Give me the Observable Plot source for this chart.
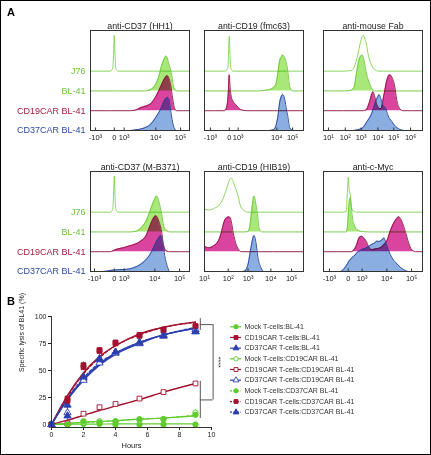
<!DOCTYPE html>
<html><head><meta charset="utf-8">
<script src="https://cdn.jsdelivr.net/npm/d3@7"></script>
<script src="https://cdn.jsdelivr.net/npm/@observablehq/plot@0.6"></script>
<style>
html,body{margin:0;padding:0;background:#fff;}
#fig{position:relative;width:431px;height:455px;box-sizing:border-box;border:1px solid #000;overflow:hidden;font-family:"Liberation Sans",Arial,sans-serif;background:#fff;}
.letter{position:absolute;font-weight:bold;font-size:11px;line-height:11px;color:#000;}
</style></head><body><div id="fig"><div class="letter" style="left:6px;top:6px">A</div><div class="letter" style="left:6px;top:295px">B</div></div>
<script>
// ---------- Panel A data ----------
const rowNames = ["J76", "BL-41", "CD19CAR BL-41", "CD37CAR BL-41"];
const panelTitles = ["anti-CD37 (HH1)", "anti-CD19 (fmc63)", "anti-mouse Fab", "anti-CD37 (M-B371)", "anti-CD19 (HIB19)", "anti-c-Myc"];
const biexLabels = ["-10³", "0", "10³", "10⁴", "10⁵"];
const logLabels5 = ["10¹", "10²", "10³", "10⁴", "10⁵"];
const logLabels6 = ["10¹", "10²", "10³", "10⁴", "10⁵", "10⁶"];
// tick positions in display channel units (0-100 across each panel)
const tickPos = [[5, 24, 34, 66, 91], [6, 25, 34, 73, 89], [5, 22, 38, 55, 71, 88], [4, 24, 34, 65, 90], [0, 24, 44, 67, 88], [6, 25, 39, 64, 89]];
const tickLabels = [biexLabels, biexLabels, logLabels6, biexLabels, logLabels5, biexLabels];

// curves: [channel, % of max] for rows J76, BL-41, CD19CAR BL-41, CD37CAR BL-41
const hh1 = [
  [[20,0],[22.5,8],[23.3,50],[24,100],[24.7,50],[25.5,8],[28,0]],
  [[55,0],[60,3],[63,8],[66,20],[69,40],[71,62],[73,80],[75,92],[76,97],[77.5,92],[79,76],[81,58],[82,44],[84,11],[86,2],[88,0]],
  [[40,0],[46,2],[51,9],[56,13],[61,20],[66,39],[71,67],[75,90],[77.7,97],[79.5,88],[81,71],[83,34],[85,6],[87,0]],
  [[40,0],[46,2],[52,5],[56,9],[61,18],[66,37],[71,60],[75,85],[78,92],[79.5,85],[81,55],[83,23],[85,5],[87,0]]
];
const fmc63 = [
  [[21,0],[23.5,8],[24.3,50],[25,97],[25.7,50],[26.5,8],[29,0]],
  [[55,0],[62,2],[66,4],[69,8],[72,18],[74,48],[76,85],[78,96],[79,100],[80,97],[82,85],[84,58],[86,14],[88,2],[90,0]],
  [[20,0],[22,6],[24,48],[25,100],[26,60],[27,40],[29,25],[32,16],[35,6],[39,1],[42,0]],
  [[65,0],[70,3],[72,12],[74,37],[76,79],[78,97],[79,100],[81,88],[83,55],[84,42],[86,9],[88,2],[90,0]]
];
const mouseFab = [
  [[20,0],[28,2],[31,11],[34,39],[37,76],[39,96],[40,100],[42,88],[43,80],[45,48],[48,20],[51,6],[56,0]],
  [[22,0],[28,2],[31,11],[33,44],[36,88],[38,98],[39,100],[41,85],[43,53],[46,25],[49,6],[52,0]],
  [[40,0],[43,2],[46,20],[49,48],[50,53],[52,37],[54,16],[57,6],[58,6],[61,43],[64,85],[67,100],[69,94],[72,67],[74,30],[77,6],[80,0]],
  [[30,0],[34,2],[39,6],[44,25],[48,43],[51,66],[53,83],[55,95],[56,100],[58,88],[60,70],[63,61],[65,43],[69,25],[73,11],[78,2],[82,0]]
];
const mb371 = [
  [[20,0],[22.5,8],[23.3,50],[24,100],[24.7,50],[25.5,8],[28,0]],
  [[40,0],[46,2],[51,11],[56,30],[60,57],[63,80],[65,93],[67,100],[69,85],[72,48],[74,16],[77,4],[80,0]],
  [[20,0],[23,3],[28,8],[33,11],[39,16],[46,22],[51,30],[56,44],[60,71],[63,90],[66,100],[69,85],[72,53],[74,16],[77,2],[80,0]],
  [[12,0],[16,1],[23,4],[36,6],[46,13],[53,25],[58,39],[63,62],[66,80],[69,94],[71,100],[73,80],[75,44],[78,11],[80,0]]
];
const hib19 = [
  [[0,8],[5,6],[10,11],[15,20],[19,39],[23,71],[25,88],[27,95],[30,76],[34,44],[36,20],[39,6],[44,0]],
  [[40,0],[44,1],[46,20],[48,67],[50,100],[52,76],[54,39],[55,11],[58,0]],
  [[0,16],[4,11],[9,16],[14,30],[17,53],[19,76],[22,94],[25,97],[27,85],[29,53],[32,20],[35,4],[37,0]],
  [[38,0],[41,2],[44,20],[47,67],[50,100],[52,80],[54,39],[57,11],[60,0]]
];
const cmyc = [
  [[20,0],[23,2],[24,48],[25,97],[26,60],[27,48],[28,20],[29,6],[31,2],[34,0]],
  [[23,0],[24,10],[25,48],[26,85],[27,94],[28,76],[29,44],[31,20],[34,6],[39,1],[45,0]],
  [[28,0],[30,3],[33,16],[36,39],[38,43],[40,40],[43,30],[46,12],[49,6],[53,8],[58,12],[61,20],[64,30],[68,62],[71,80],[74,92],[76,97],[79,85],[83,53],[86,25],[89,6],[93,0]],
  [[17,0],[19,3],[23,16],[26,30],[29,39],[32,46],[34,53],[37,58],[39,62],[42,64],[44,67],[47,72],[49,76],[52,80],[54,85],[56,83],[58,86],[60,90],[61,94],[62,88],[63,80],[66,57],[69,39],[73,25],[78,11],[83,2],[86,0]]
];

// ---------- Panel B data ----------
const times = [0, 1, 2, 3, 4, 5.5, 7, 9];
const lysisNames = ["Mock T-cells:BL-41", "CD19CAR T-cells:BL-41", "CD37CAR T-cells:BL-41",
  "Mock T-cells:CD19CAR BL-41", "CD19CAR T-cells:CD19CAR BL-41", "CD37CAR T-cells:CD19CAR BL-41",
  "Mock T-cells:CD37CAR BL-41", "CD19CAR T-cells:CD37CAR BL-41", "CD37CAR T-cells:CD37CAR BL-41"];
const mockBL41 = [0, 0, 0.5, 0.5, 0, 0, 0, 0];
const cd19BL41 = [0, 24, 55, 69, 76, 82, 88, 91];
const cd37BL41 = [0, 18, 43, 61, 67, 75, 82, 86];
const mockCD19 = [0, 0, 2, 3, 3, 4, 5, 11];
const cd19CD19 = [0, 1, 10, 16, 19, 24, 30, 38];
const cd37CD19 = [0, 11, 41, 57, 66, 75, 83, 88];
const mockCD37 = [0, 0, 3, 2, 3, 5, 5, 9];
const cd19CD37 = [0, 22, 53, 68, 75, 83, 87, 91];
const cd37CD37 = [0, 8, 44, 60, 67, 76, 82, 86];
const fitMockBL41 = [0, 0.2, 0.3, 0.4, 0.5, 0.5, 0.5, 0.5];
const fitCd19BL41 = [0, 27, 48, 63, 73, 84, 90, 95];
const fitCd37BL41 = [0, 24, 42, 56, 66, 76, 83, 89];
const fitMockCD19 = [0, 1, 2, 3, 3.5, 5, 6, 8];
const fitCd19CD19 = [0, 4, 8.5, 13, 17, 23, 30, 38];
const fitCd37CD19 = [0, 23, 41, 55, 65, 75, 83, 89];
const fitMockCD37 = [0, 1, 2, 2.5, 3.5, 5, 6, 8.5];
const fitCd19CD37 = [0, 26, 47, 62, 73, 83, 90, 94.5];
const fitCd37CD37 = [0, 24, 43, 57, 66, 76, 83, 90];
const sdMockBL41 = [0, 0.5, 1, 1, 1, 0.5, 0.5, 0.5];
const sdCd19BL41 = [0, 3, 3, 2, 2, 2, 2, 2];
const sdCd37BL41 = [0, 4, 3, 3, 2, 2, 2, 2];
const sdMockCD19 = [0, 0.5, 1, 1, 1, 2, 1, 3];
const sdCd19CD19 = [0, 1, 1, 1, 1, 1, 1, 1];
const sdCd37CD19 = [0, 5, 3, 3, 2, 2, 2, 2];
const sdMockCD37 = [0, 0.5, 1, 2, 1, 2, 1, 2];
const sdCd19CD37 = [0, 3, 3, 2, 2, 2, 2, 2];
const sdCd37CD37 = [0, 4, 3, 3, 2, 2, 2, 2];
const sigX = [9.3, 10.1];
const sigTop = [87, 98];
const sigBottom = [5.5, 40];

// ---------- rendering ----------
const fig = document.getElementById("fig");
function place(el, left, top) { el.style.position = "absolute"; el.style.left = left + "px"; el.style.top = top + "px"; fig.appendChild(el); }
const FONT = "Liberation Sans, Arial, Helvetica, sans-serif";

const rowBase = [165, 110, 55, 0];
const rowStroke = ["#7fd24e", "#6cc63a", "#8a1538", "#27409a"];
const rowFill = [null, "#a8e878", "#d8449e", "#8aaee0"];
const rowText = ["#6cc63a", "#6cc63a", "#a51b3d", "#2e4aa2"];
const panelLeft = [89, 203, 322, 89, 203, 322];
const panelTop = [29, 29, 29, 170, 170, 170];
const panels = [hh1, fmc63, mouseFab, mb371, hib19, cmyc];

panels.forEach((curves, k) => {
  const isLeft = k % 3 === 0;
  const ml = isLeft ? 92 : 14, mr = 14, mt = 14, mb = 16;
  const labels = new Map(tickPos[k].map((p, i) => [p, tickLabels[k][i]]));
  const marks = [];
  curves.forEach((pts, r) => {
    const full = pts.slice();
    if (full[0][0] > 0) full.unshift([0, 0]);
    if (full[full.length - 1][0] < 100) full.push([100, 0]);
    const data = full.map(([x, p]) => ({x, y0: rowBase[r], y: rowBase[r] + p}));
    if (rowFill[r]) marks.push(Plot.areaY(data, {x: "x", y1: "y0", y2: "y", fill: rowFill[r], mixBlendMode: "multiply", curve: "monotone-x"}));
    marks.push(Plot.lineY(data, {x: "x", y: "y", stroke: rowStroke[r], strokeWidth: 0.9, curve: "monotone-x"}));
  });
  marks.push(Plot.ruleX(tickPos[k], {y1: 0, y2: 7, stroke: "#333"}));
  marks.push(Plot.frame({stroke: "#333", strokeWidth: 1}));
  marks.push(Plot.text([panelTitles[k]], {frameAnchor: "top", dy: -8, fontSize: 8.8, fill: "#222", text: d => d}));
  if (isLeft) {
    rowNames.forEach((name, r) => {
      marks.push(Plot.text([name], {y: () => rowBase[r], frameAnchor: "left", textAnchor: "end", dx: -5, fontSize: 9, fill: rowText[r], text: d => d}));
    });
  }
  const svg = Plot.plot({
    width: ml + 99 + mr, height: mt + 100 + mb,
    marginLeft: ml, marginRight: mr, marginTop: mt, marginBottom: mb,
    x: {domain: [0, 100], ticks: tickPos[k], tickFormat: d => labels.get(d), tickSize: 0, tickPadding: 4, label: null},
    y: {domain: [0, 278], axis: null},
    style: {background: "transparent", fontFamily: FONT, fontSize: "7.5px", color: "#222", overflow: "visible"},
    marks
  });
  place(svg, panelLeft[k] - ml, panelTop[k] - mt);
});

// Panel B
const GREEN = "#5fcb2e", RED = "#a3122e", BLUE = "#2b3fae";
const seriesPts = [mockBL41, cd19BL41, cd37BL41, mockCD19, cd19CD19, cd37CD19, mockCD37, cd19CD37, cd37CD37];
const seriesFit = [fitMockBL41, fitCd19BL41, fitCd37BL41, fitMockCD19, fitCd19CD19, fitCd37CD19, fitMockCD37, fitCd19CD37, fitCd37CD37];
const seriesSd = [sdMockBL41, sdCd19BL41, sdCd37BL41, sdMockCD19, sdCd19CD19, sdCd37CD19, sdMockCD37, sdCd19CD37, sdCd37CD37];
const seriesColor = [GREEN, RED, BLUE, GREEN, RED, BLUE, GREEN, RED, BLUE];
const seriesSymbol = ["circle", "square", "triangle", "circle", "square", "triangle", "circle", "square", "triangle"];
const seriesOpen = [false, false, false, true, true, true, false, false, false];
const seriesDash = [false, false, false, false, false, false, true, true, true];

const bMarks = [];
seriesFit.forEach((fit, s) => {
  const d = times.map((t, i) => ({t, v: fit[i]}));
  bMarks.push(Plot.lineY(d, {x: "t", y: "v", stroke: seriesColor[s], strokeWidth: seriesColor[s] === GREEN ? 1.2 : 1.4, strokeDasharray: seriesDash[s] ? "3,2" : null, curve: "monotone-x"}));
});
seriesPts.forEach((pts, s) => {
  const d = times.map((t, i) => ({t, v: pts[i], sd: seriesSd[s][i]}));
  bMarks.push(Plot.ruleX(d.filter(e => e.sd > 0), {x: "t", y1: e => e.v - e.sd, y2: e => e.v + e.sd, stroke: seriesColor[s], strokeWidth: 0.8}));
});
seriesPts.forEach((pts, s) => {
  const d = times.map((t, i) => ({t, v: pts[i]}));
  bMarks.push(Plot.dot(d, {x: "t", y: "v", symbol: () => seriesSymbol[s], r: 2.7, fill: seriesOpen[s] ? "white" : seriesColor[s], stroke: seriesColor[s], strokeWidth: 0.9}));
});
// axes lines
bMarks.push(Plot.ruleX([0], {stroke: "#333", strokeWidth: 1}));
bMarks.push(Plot.ruleY([0], {dy: 3, stroke: "#333", strokeWidth: 1}));
// significance bracket
bMarks.push(Plot.ruleX([sigX[0]], {y1: sigTop[0], y2: sigTop[1], stroke: "#555"}));
bMarks.push(Plot.ruleX([sigX[0]], {y1: sigBottom[0], y2: sigBottom[1], stroke: "#555"}));
const topMid = (sigTop[0] + sigTop[1]) / 2, botMid = (sigBottom[0] + sigBottom[1]) / 2;
bMarks.push(Plot.ruleY([topMid, botMid], {x1: sigX[0], x2: sigX[1], stroke: "#555"}));
bMarks.push(Plot.ruleX([sigX[1]], {y1: botMid, y2: topMid, stroke: "#555"}));
bMarks.push(Plot.text(["****"], {x: () => sigX[1], y: () => (topMid + botMid) / 2, dx: 5, rotate: 90, fontSize: 7, fill: "#333", text: d => d}));
bMarks.push(Plot.text(["Hours"], {frameAnchor: "bottom", dy: 20, fontSize: 7.5, fill: "#222", text: d => d, fontFamily: "Liberation Sans Narrow, Liberation Sans, Arial, sans-serif"}));
bMarks.push(Plot.text(["Specific lysis of BL41 (%)"], {frameAnchor: "left", dx: -30, rotate: -90, fontSize: 7, fill: "#222", text: d => d, fontFamily: "Liberation Sans Narrow, Liberation Sans, Arial, sans-serif"}));

const B = Plot.plot({
  width: 230, height: 150,
  marginLeft: 50, marginRight: 20, marginTop: 10, marginBottom: 29,
  x: {domain: [0, 10], ticks: [0, 2, 4, 6, 8, 10], tickSize: 3, tickPadding: 2, label: null},
  y: {domain: [0, 100], ticks: [0, 25, 50, 75, 100], tickSize: 3, tickPadding: 2, label: null, insetBottom: 3},
  style: {background: "transparent", fontFamily: FONT, fontSize: "7px", color: "#222", overflow: "visible"},
  marks: bMarks
});
place(B, 0, 305);

// Legend
const legendData = lysisNames.map((name, i) => ({name, i}));
const L = Plot.plot({
  width: 200, height: 96, marginLeft: 0, marginRight: 0, marginTop: 0, marginBottom: 0,
  x: {domain: [0, 1], range: [4, 15], axis: null},
  y: {domain: [0, 8], range: [5.3, 90.7], axis: null},
  style: {background: "transparent", fontFamily: FONT, fontSize: "7px", overflow: "visible"},
  marks: [
    ...legendData.map(d => Plot.ruleY([d.i], {x1: 0, x2: 1, stroke: seriesColor[d.i], strokeWidth: 1.2, strokeDasharray: seriesDash[d.i] ? "2,1.5" : null})),
    ...legendData.map(d => Plot.dot([d], {x: () => 0.5, y: "i", symbol: () => seriesSymbol[d.i], r: 2.2, fill: seriesOpen[d.i] ? "white" : seriesColor[d.i], stroke: seriesColor[d.i], strokeWidth: 0.9})),
    Plot.text(legendData, {y: "i", text: "name", frameAnchor: "left", dx: 18, textAnchor: "start", fill: "#333", fontSize: 7})
  ]
});
place(L, 225, 320);
</script></body></html>
